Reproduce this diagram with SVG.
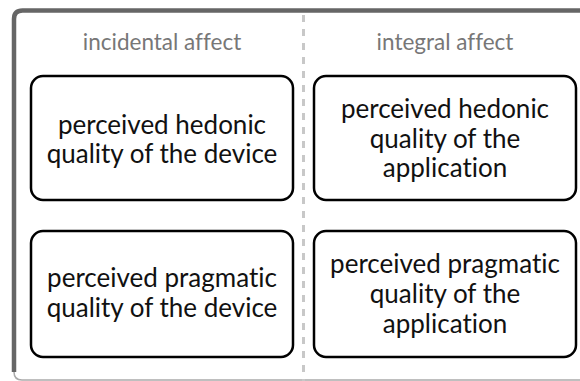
<svg xmlns="http://www.w3.org/2000/svg" width="580" height="381" viewBox="0 0 580 381">
<style>
.frame-bottom{fill:none;stroke:#aaaaaa;stroke-width:1.5}
.frame-top{fill:none;stroke:#666666;stroke-width:4.5}
.divider{stroke:#c8c8c8;stroke-width:3;stroke-dasharray:7 7}
.hdr{font-family:Lato,"Open Sans","Liberation Sans",sans-serif;font-size:22.5px;fill:#777777;text-anchor:middle;font-variant-ligatures:none}
.box{fill:#ffffff;stroke:#000000;stroke-width:2.5}
.lbl{font-family:Lato,"Open Sans","Liberation Sans",sans-serif;font-size:26px;fill:#111111;text-anchor:middle;font-variant-ligatures:none}
</style>
<rect width="580" height="381" fill="#ffffff"/>
<g id="frame">
<path class="frame-bottom" d="M14 372 Q14 380 22 380 L590 380"/>
<path class="frame-top" d="M14 372 L14 19 Q14 10.5 22.5 10.5 L590 10.5"/>
<line class="divider" x1="303.5" y1="15" x2="303.5" y2="381"/>
</g>
<g id="header-incidental"><text class="hdr" x="162" y="50">incidental affect</text></g>
<g id="header-integral"><text class="hdr" x="445" y="50">integral affect</text></g>
<g id="hedonic-device">
<rect class="box" x="31" y="76" width="262" height="124" rx="12"/>
<text class="lbl" x="162" y="134">perceived hedonic</text>
<text class="lbl" x="162" y="163">quality of the device</text>
</g>
<g id="hedonic-application">
<rect class="box" x="314" y="76" width="262" height="124" rx="12"/>
<text class="lbl" x="445" y="118">perceived hedonic</text>
<text class="lbl" x="445" y="148">quality of the</text>
<text class="lbl" x="445" y="177">application</text>
</g>
<g id="pragmatic-device">
<rect class="box" x="31" y="231" width="262" height="126" rx="12"/>
<text class="lbl" x="162" y="287">perceived pragmatic</text>
<text class="lbl" x="162" y="317">quality of the device</text>
</g>
<g id="pragmatic-application">
<rect class="box" x="314" y="231" width="262" height="126" rx="12"/>
<text class="lbl" x="445" y="273">perceived pragmatic</text>
<text class="lbl" x="445" y="303">quality of the</text>
<text class="lbl" x="445" y="333">application</text>
</g>
<g id="connectors"></g>
</svg>
